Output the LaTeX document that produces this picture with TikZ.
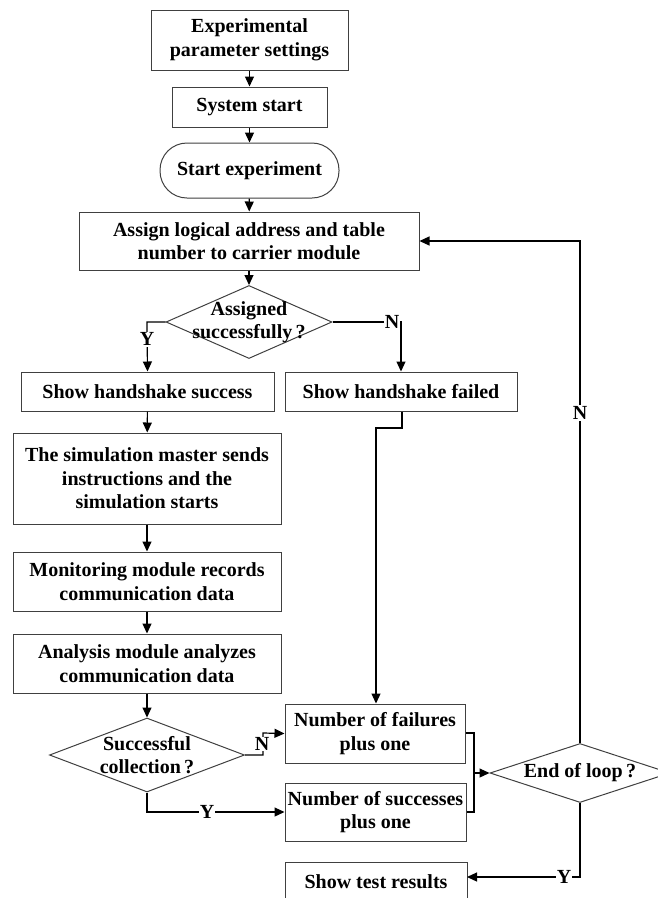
\documentclass[tikz,border=0pt]{standalone}
\usepackage{fontspec}
\setmainfont{Liberation Serif}
\usetikzlibrary{shapes.geometric,arrows.meta}
\tikzset{
  txt/.style={font=\bfseries\fontsize{20}{23.5}\selectfont},
  box/.style={draw=black!75, line width=1pt, fill=white, align=center, inner sep=0pt, txt},
  dia/.style={shape=diamond, draw=black!75, line width=1pt, inner sep=0pt},
  ln/.style={line width=1.2pt},
  arr/.style={line width=1.2pt, -{Triangle[length=10pt,width=9pt]}},
  lab/.style={fill=white, inner sep=1pt, txt},
}
\begin{document}
\begin{tikzpicture}[x=1pt,y=-1pt]
\useasboundingbox (0,0) rectangle (657,898);
% nodes
\node[box, minimum width=197pt, minimum height=60pt] (exp) at (249.5,40) {Experimental\\parameter settings};
\node[box, minimum width=155pt, minimum height=40pt] (sys) at (249.5,107) {System start};
\node[box, rounded corners=27pt, minimum width=179pt, minimum height=55pt] (start) at (249.5,170.5) {Start experiment};
\node[box, minimum width=340pt, minimum height=58pt] (assign) at (249,241) {Assign logical address and table\\number to carrier module};
\node[dia, minimum width=166pt, minimum height=73pt, label={[txt,align=center]center:Assigned\\successfully\,?}] (d1) at (249,322) {};
\node[box, minimum width=253pt, minimum height=39pt] (succ) at (147.5,391.5) {Show handshake success};
\node[box, minimum width=232pt, minimum height=39pt] (fail) at (401,391.5) {Show handshake failed};
\node[box, minimum width=268pt, minimum height=91pt] (sim) at (147,478.5) {The simulation master sends\\instructions and the\\simulation starts};
\node[box, minimum width=268pt, minimum height=59pt] (mon) at (147,581.5) {Monitoring module records\\communication data};
\node[box, minimum width=268pt, minimum height=59pt] (ana) at (147,663.5) {Analysis module analyzes\\communication data};
\node[dia, minimum width=195pt, minimum height=74pt, label={[txt,align=center]center:Successful\\collection\,?}] (d2) at (147,755) {};
\node[box, minimum width=180pt, minimum height=59pt] (nf) at (375,733.5) {Number of failures\\plus one};
\node[box, minimum width=181pt, minimum height=58pt] (ns) at (375.5,812) {Number of successes\\plus one};
\node[dia, minimum width=180pt, minimum height=59pt, label={[txt]center:End of loop\,?}] (d3) at (580,773) {};
\node[box, minimum width=182pt, minimum height=39pt] (res) at (376,881.5) {Show test results};
% helper coordinates
\coordinate (c1) at (147,322);
\coordinate (c2) at (401,322);
\coordinate (c3) at (402,428);
\coordinate (c4) at (376,428);
\coordinate (c5) at (263,755);
\coordinate (c6) at (263,733);
\coordinate (c7) at (147,812);
\coordinate (c8) at (474,733);
\coordinate (c9) at (474,812);
\coordinate (c10) at (474,773);
\coordinate (c11) at (580,241);
\coordinate (c12) at (580,877);
\coordinate (c13) at (467,877);
% connectors
\draw[arr] (exp) -- (sys);
\draw[arr] (sys) -- (start);
\draw[arr] (start) -- (assign);
\draw[arr] (assign) -- (d1);
\draw[arr] (d1.west) -- (c1) -- (succ.north) node[lab, pos=0.35] (ly1) {Y};
\draw[arr] (d1.east) -- (c2) -- (c2 |- fail.north);
\node[lab] (ln1) at (392,322) {N};
\draw[arr] (succ) -- (sim);
\draw[arr] (sim) -- (mon);
\draw[arr] (mon) -- (ana);
\draw[arr] (ana) -- (d2);
\draw[arr] (c3 |- fail.south) -- (c3) -- (c4) -- (c4 |- nf.north);
\draw[arr] (d2.east) -- (c5) -- (c6) -- (nf.west);
\node[lab, inner sep=0.5pt] (ln2) at (262,744) {N};
\draw[arr] (d2.south) -- (c7) -- (ns.west);
\node[lab] (ly2) at (207,812) {Y};
\draw[ln] (nf.east |- c8) -- (c8) -- (c9) -- (ns.east |- c9);
\draw[arr] (c10) -- (d3.west);
\draw[arr] (d3.north) -- (c11) -- (assign.east);
\node[lab] (ln3) at (580,413) {N};
\draw[arr] (d3.south) -- (c12) -- (c13);
\node[lab] (ly3) at (564,877) {Y};
\end{tikzpicture}
\end{document}
